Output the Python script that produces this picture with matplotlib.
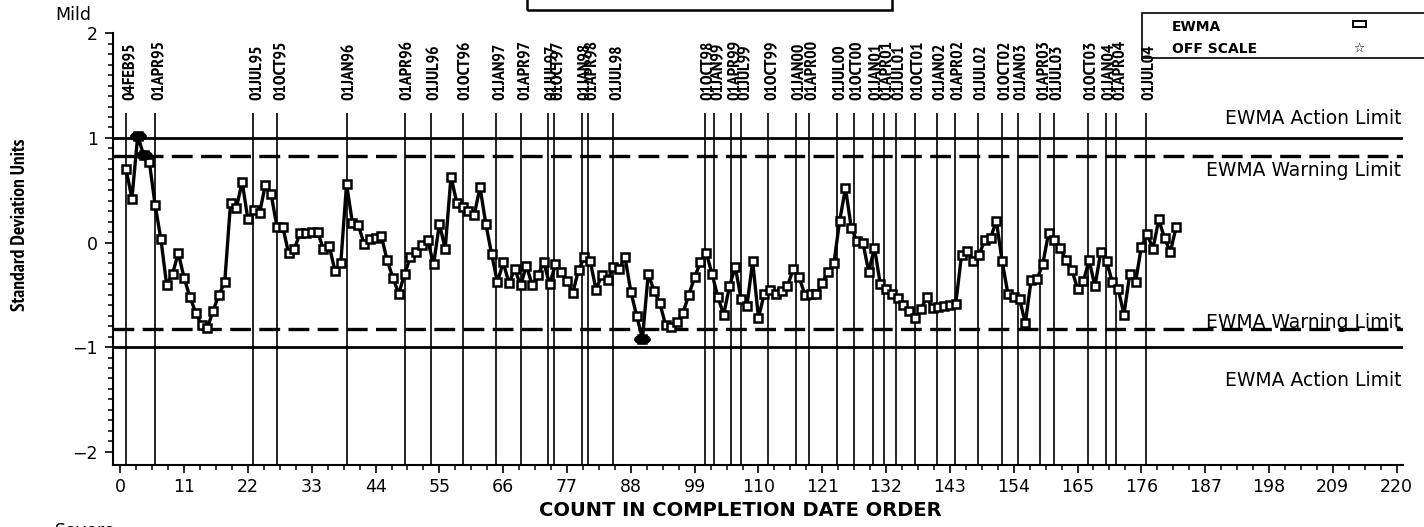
import matplotlib
matplotlib.use("Agg")
import matplotlib.pyplot as plt
from matplotlib import font_manager, transforms
from matplotlib.font_manager import FontProperties
from matplotlib.patches import Rectangle
from matplotlib.path import Path
from matplotlib.textpath import TextPath
import numpy as np

# EWMA values in completion-date order (count 1..182)
ewma = [
    0.70, 0.42, 1.02, 0.84, 0.77, 0.36, 0.03, -0.41, -0.30, -0.10,
    -0.34, -0.52, -0.67, -0.79, -0.82, -0.65, -0.50, -0.38, 0.38, 0.33,
    0.58, 0.22, 0.31, 0.28, 0.55, 0.46, 0.15, 0.15, -0.10, -0.06,
    0.09, 0.09, 0.10, 0.10, -0.06, -0.03, -0.27, -0.20, 0.56, 0.19,
    0.17, -0.01, 0.03, 0.04, 0.06, -0.17, -0.34, -0.49, -0.30, -0.14,
    -0.09, -0.02, 0.02, -0.21, 0.18, -0.06, 0.63, 0.38, 0.34, 0.30,
    0.26, 0.53, 0.18, -0.11, -0.38, -0.19, -0.39, -0.25, -0.41, -0.22,
    -0.41, -0.31, -0.19, -0.40, -0.21, -0.28, -0.37, -0.48, -0.26, -0.14,
    -0.18, -0.45, -0.31, -0.36, -0.23, -0.25, -0.14, -0.47, -0.70, -0.92,
    -0.30, -0.46, -0.58, -0.79, -0.81, -0.76, -0.67, -0.50, -0.33, -0.19,
    -0.10, -0.30, -0.52, -0.69, -0.42, -0.23, -0.54, -0.61, -0.18, -0.72,
    -0.49, -0.45, -0.49, -0.46, -0.42, -0.25, -0.33, -0.50, -0.49, -0.49,
    -0.39, -0.28, -0.20, 0.21, 0.52, 0.14, 0.01, 0.00, -0.28, -0.05,
    -0.40, -0.44, -0.49, -0.53, -0.60, -0.65, -0.72, -0.64, -0.52, -0.63,
    -0.62, -0.61, -0.60, -0.59, -0.12, -0.08, -0.18, -0.12, 0.02, 0.04,
    0.21, -0.18, -0.49, -0.52, -0.54, -0.77, -0.36, -0.35, -0.21, 0.09,
    0.02, -0.05, -0.17, -0.26, -0.44, -0.37, -0.17, -0.42, -0.09, -0.18,
    -0.38, -0.44, -0.69, -0.30, -0.38, -0.04, 0.08, -0.06, 0.22, 0.04,
    -0.09, 0.15,
]
count = np.arange(1, len(ewma) + 1)

# Quarter boundaries (position on the count axis) and their date labels
quarter_pos = [1.0, 6.0, 22.9, 27.0, 39.0, 49.0, 53.6, 59.0, 64.8, 69.0,
               73.7, 74.8, 79.5, 80.7, 85.0, 100.7, 102.4, 105.3, 107.0, 111.6,
               116.4, 118.7, 123.5, 126.4, 129.7, 131.7, 133.7, 137.0, 140.8, 143.8,
               147.8, 152.0, 154.7, 158.6, 160.9, 166.8, 169.9, 171.7, 176.8]
quarter_lbl = ["04FEB95", "01APR95", "01JUL95", "01OCT95", "01JAN96",
               "01APR96", "01JUL96", "01OCT96", "01JAN97", "01APR97",
               "01JUL97", "01OCT97", "01JAN98", "01APR98", "01JUL98",
               "01OCT98", "01JAN99", "01APR99", "01JUL99", "01OCT99",
               "01JAN00", "01APR00", "01JUL00", "01OCT00", "01JAN01",
               "01APR01", "01JUL01", "01OCT01", "01JAN02", "01APR02",
               "01JUL02", "01OCT02", "01JAN03", "01APR03", "01JUL03",
               "01OCT03", "01JAN04", "01APR04", "01JUL04"]

action_limit = 1.0
warning_limit = 0.83

x_ticks = list(range(0, 221, 11))
y_ticks = [-2, -1, 0, 1, 2]

W, H = 1424, 527
DPI = 100


# ---------------------------------------------------------------- fonts
def text_width_px(text, prop, size):
    path = TextPath((0, 0), text, size=size, prop=prop)
    return path.get_extents().width * DPI / 72.0


def condensed_bold():
    """A bold narrow / condensed sans face, falling back to DejaVu Sans Condensed."""
    narrow_named, condensed = [], []
    families = ("roboto condensed", "open sans condensed", "noto sans condensed",
                "noto sans", "dejavu sans condensed", "dejavu sans")
    for f in font_manager.fontManager.ttflist:
        nm = f.name.lower()
        st = f.stretch
        if isinstance(st, str):
            st = font_manager.stretch_dict.get(st, 500)
        wt = f.weight
        if isinstance(wt, str):
            wt = font_manager.weight_dict.get(wt, 400)
        if f.style != "normal" or wt != 700 or "mono" in nm:
            continue
        if "narrow" in nm and "sans" in nm:
            narrow_named.append(f)
        elif st == 300 and nm in families:
            condensed.append(f)
    for group in (narrow_named, condensed):
        if group:
            return FontProperties(fname=group[0].fname)
    return FontProperties(family="DejaVu Sans", stretch="condensed", weight="bold")


narrow = condensed_bold()


def fit_size(text, target_px, lo, hi):
    w10 = text_width_px(text, narrow, 10)
    return float(np.clip(10 * target_px / w10, lo, hi))


date_size = fit_size("04FEB95", 56, 10, 13)
ylab_size = fit_size("Standard Deviation Units", 175, 11, 14)

fig = plt.figure(figsize=(W / DPI, H / DPI), dpi=DPI)


def fx(px):
    return px / W


def fy(py):
    return 1 - py / H


ax = fig.add_axes([fx(113), fy(465), fx(1403) - fx(113), fy(33.3) - fy(465)])
ymin, ymax = -2.127, 2.0
ax.set_xlim(-1.26, 221.1)
ax.set_ylim(ymin, ymax)

for side in ("top", "right"):
    ax.spines[side].set_visible(False)
for side in ("left", "bottom"):
    ax.spines[side].set_linewidth(1.5)

ax.set_xticks(x_ticks)
ax.set_xticks(np.arange(0, 221, 2.75), minor=True)
ax.set_yticks(y_ticks)
ax.set_yticks(np.arange(-2.0, 2.01, 0.1), minor=True)
ax.set_yticklabels(["\u22122", "\u22121", "0", "1", "2"])
ax.tick_params(which="major", direction="out", length=6, width=1.2,
               labelsize=12.5, pad=3)
ax.tick_params(which="minor", direction="out", length=3.6, width=1.1)
ax.tick_params(axis="y", which="major", pad=5)
for lbl in ax.get_xticklabels() + ax.get_yticklabels():
    lbl.set_fontfamily("DejaVu Sans")

# quarter boundary lines with their dates
line_top = 1.238
ax.vlines(quarter_pos, ymin, line_top, colors="black", linewidth=1.2, zorder=1)
lbl_trans = transforms.offset_copy(ax.transData, fig=fig, x=3.5, y=0, units="dots")
for xp, lab in zip(quarter_pos, quarter_lbl):
    ax.text(xp, 1.362, lab, rotation=90, ha="center", va="bottom",
            fontproperties=narrow, fontsize=date_size, transform=lbl_trans,
            clip_on=False)

# control limits
plt.rcParams["lines.scale_dashes"] = False
for s in (1, -1):
    ax.axhline(s * action_limit, color="black", linewidth=2.0, zorder=2)
    ax.axhline(s * warning_limit, color="black", linewidth=2.4,
               linestyle=(0, (15, 6)), zorder=2)

lim_kw = dict(ha="right", va="baseline", fontsize=13.5, family="DejaVu Sans",
              clip_on=False)
xr = 220.8
ax.text(xr, 1.133, "EWMA Action Limit", **lim_kw)
ax.text(xr, 0.636, "EWMA Warning Limit", **lim_kw)
ax.text(xr, -0.817, "EWMA Warning Limit", **lim_kw)
ax.text(xr, -1.37, "EWMA Action Limit", **lim_kw)

# EWMA series
vals = np.array(ewma)
ax.plot(count, vals, color="black", linewidth=2.4, marker="s", markersize=5.5,
        markerfacecolor="white", markeredgecolor="black", markeredgewidth=1.8,
        zorder=3)

ellipse = Path.unit_circle().transformed(transforms.Affine2D().scale(1.0, 0.55))
flag = np.abs(vals) > warning_limit
ax.plot(count[flag], vals[flag], linestyle="none", marker=ellipse,
        markersize=11, color="black", zorder=4)

# axis titles
fig.text(fx(20), fy(225), "Standard Deviation Units", rotation=90,
         ha="center", va="center", fontproperties=narrow, fontsize=ylab_size)
fig.text(fx(740), fy(511), "COUNT IN COMPLETION DATE ORDER", ha="center",
         va="center", fontsize=14, weight="heavy", family="DejaVu Sans")
fig.text(fx(55), fy(15), "Mild", ha="left", va="center", fontsize=12.5,
         family="DejaVu Sans")
fig.text(fx(55), fy(531), "Severe", ha="left", va="center", fontsize=12.5,
         family="DejaVu Sans")

# frame of the title block (its top edge runs off the page)
fig.add_artist(Rectangle((fx(527), fy(9.5)), fx(892) - fx(527), fy(-20) - fy(9.5),
                         transform=fig.transFigure, fill=False, linewidth=1.8,
                         edgecolor="black", clip_on=False))

# legend block
fig.add_artist(Rectangle((fx(1142), fy(58.3)), fx(1440) - fx(1142), fy(12.7) - fy(58.3),
                         transform=fig.transFigure, fill=False, linewidth=1.2,
                         edgecolor="black", clip_on=False))
fig.text(fx(1172), fy(27), "EWMA", ha="left", va="center", fontsize=10,
         weight="bold", family="DejaVu Sans")
fig.text(fx(1172), fy(49), "OFF SCALE", ha="left", va="center", fontsize=10,
         weight="bold", family="DejaVu Sans")
fig.add_artist(Rectangle((fx(1353), fy(26.5)), fx(1366) - fx(1353), fy(21.5) - fy(26.5),
                         transform=fig.transFigure, fill=False, linewidth=1.4,
                         edgecolor="black"))
fig.text(fx(1359), fy(48), "\u2606", ha="center", va="center", fontsize=9,
         family="DejaVu Sans")

fig.savefig("out.png", dpi=DPI)
